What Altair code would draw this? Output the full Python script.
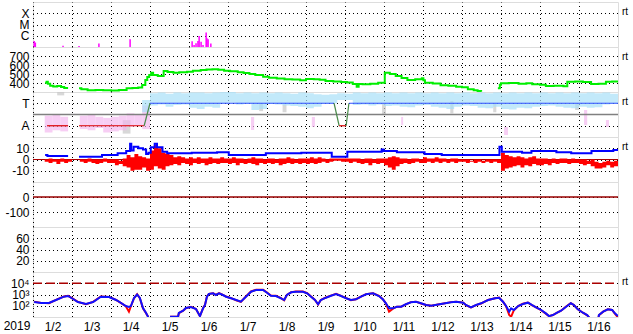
import altair as alt
import pandas as pd

FONT = "Liberation Sans"
W, H = 585, 45

# ---------------- data (time = day of January 2019) ----------------
# X-ray flux bars
xray_t = [2.03, 2.06, 2.77, 3.18, 3.69, 4.49, 6.08, 6.13, 6.18, 6.23, 6.26, 6.31, 6.36, 6.44, 6.46, 6.49, 6.56]
xray_flux = [3.4e-7, 2.5e-7, 1.3e-7, 1.2e-7, 2.1e-7, 4.8e-7, 3.2e-7, 1.5e-7, 2.2e-7, 3.4e-7, 9.5e-7,
             3.0e-7, 1.5e-7, 1.9e-6, 5.9e-7, 4.8e-7, 2.1e-7]

# solar wind speed (three continuous pieces)
spd1_t = [2.31, 2.35, 2.38, 2.44, 2.52, 2.62, 2.72, 2.80, 2.90]
spd1_v = [403, 414, 392, 370, 362, 366, 355, 344, 344]
spd2_t = [3.18, 3.24, 3.40, 3.60, 3.80, 4.00, 4.20, 4.40, 4.55, 4.70, 4.80, 4.88, 4.93, 4.98, 5.03,
          5.08, 5.20, 5.35, 5.45, 5.60, 5.75, 5.95, 6.10, 6.30, 6.45, 6.60, 6.75, 6.90, 7.05, 7.25,
          7.40, 7.55, 7.70, 7.90, 8.05, 8.25, 8.45, 8.65, 8.85, 9.00, 9.20, 9.35, 9.50, 9.70, 9.90,
          10.05, 10.20, 10.30, 10.35, 10.45, 10.65, 10.85, 10.97, 11.02, 11.15, 11.30, 11.45, 11.60,
          11.80, 11.97, 12.01, 12.05, 12.25, 12.45, 12.65, 12.85, 13.00, 13.15, 13.30, 13.40, 13.49]
spd2_v = [341, 330, 319, 322, 319, 317, 322, 341, 345, 350, 378, 433, 467, 490, 514,
          489, 478, 533, 522, 514, 520, 526, 535, 545, 550, 552, 548, 535, 530, 520,
          510, 500, 489, 470, 459, 450, 441, 438, 430, 444, 441, 435, 422, 418, 411,
          405, 389, 359, 389, 385, 392, 403, 403, 514, 500, 478, 455, 433,
          441, 452, 430, 403, 395, 374, 370, 359, 352, 330, 320, 310, 303]
spd3_t = [13.92, 13.97, 14.00, 14.20, 14.45, 14.65, 14.80, 15.00, 15.15, 15.35, 15.60, 15.70,
          15.90, 16.10, 16.31, 16.50, 16.69, 16.85, 17.00]
spd3_v = [341, 380, 396, 400, 392, 398, 385, 380, 367, 370, 365, 414, 418, 410, 389, 392, 414, 418, 414]

# IMF sector clouds (T = +1, A = -1), 0.2-day bins
blue_start = 4.8
blue_hi = [1.3,
           1.9, 1.95, 1.85, 1.95, 1.9, 1.95, 1.95, 1.9, 1.95, 2.0,
           2.0, 1.9, 1.95, 1.9, 1.95, 1.9, 1.95, 1.9, 1.85, 1.95,
           1.9, 1.8, 1.75, 1.8, 1.9, 1.85, 1.95, 1.9, 1.95, 1.9,
           1.95, 1.9, 1.95, 1.9, 1.95, 1.9, 1.95, 1.9, 1.95, 1.9,
           1.95, 1.9, 1.95, 1.9, 1.95, 1.9, 1.95, 1.9, 1.95, 1.9,
           1.95, 1.9, 1.95, 1.9, 1.95, 1.9, 1.95, 1.9, 1.95, 1.85]
blue_lo = [0.2,
           0.8, 0.9, 0.7, 0.85, 0.9, 0.6, 0.5, 0.7, 0.6, 1.0,
           1.05, 0.9, 0.95, 0.4, 0.5, 0.95, 0.9, 0.8, 0.75, 0.7,
           0.55, 0.7, 0.95, 1.0, 1.3, 1.3, 0.85, 0.9, 0.8, 0.9,
           0.75, 0.8, 0.7, 0.65, 0.8, 0.85, 0.7, 0.6, 0.5, 0.7,
           0.8, 0.75, 0.6, 0.55, 0.7, 0.5, 0.45, 0.6, 0.55, 0.7,
           0.75, 0.8, 0.7, 0.6, 0.55, 0.7, 0.6, 0.65, 0.9, 0.95]
pink_t0 = [2.3, 2.5, 2.7, 3.2, 3.4, 3.6, 3.8, 4.0, 4.2, 4.4, 4.6, 4.8, 7.59, 9.15, 11.44, 14.08, 16.13, 16.69]
pink_t1 = [2.5, 2.7, 2.9, 3.4, 3.6, 3.8, 4.0, 4.2, 4.4, 4.6, 4.8, 5.0, 7.67, 9.23, 11.49, 14.18, 16.21, 16.77]
pink_hi = [-0.1, 0.0, -0.2, -0.1, 0.0, -0.2, -0.3, -0.2, -0.1, 0.1, 0.0, 0.8, -0.22, -0.22, -0.22, -1.11, 0.40, -0.49]
pink_lo = [-1.6, -1.4, -1.5, -1.3, -1.4, -1.2, -1.6, -1.5, -1.4, -1.1, -1.0, -1.3, -1.38, -1.11, -0.93, -1.82, -0.93, -1.11]
gray_t0 = [2.62, 4.30, 7.80, 8.40, 10.95, 12.70, 13.80, 15.90]
gray_t1 = [2.80, 4.50, 7.90, 8.50, 11.05, 12.78, 13.88, 16.00]
gray_hi = [2.0, -0.5, 1.0, 0.9, 1.0, 1.2, 1.0, 1.0]
gray_lo = [1.7, -1.7, 0.3, 0.2, 0.0, 0.1, 0.2, 0.4]

# sector polarity line segments
sec_t0 = [2.36, 3.18, 4.85, 5.00, 9.72, 9.85, 10.03, 10.10]
sec_t1 = [2.90, 4.85, 5.00, 9.72, 9.85, 10.03, 10.10, 17.00]
sec_v0 = [-1, -1, -1, 1, 1, -1, -1, 1]
sec_v1 = [-1, -1, 1, 1, -1, -1, 1, 1]

# IMF Bt (step line)
bt1_t = [2.31, 2.37, 2.90]
bt1_v = [4, 3.1, 3.1]
bt2_t = [3.18, 3.77, 4.17, 4.39, 4.49, 4.52, 4.58, 4.70, 4.82, 4.90, 4.96, 5.02, 5.12, 5.18, 5.32, 5.44,
         6.07, 6.72, 7.02, 7.97, 8.88, 9.66, 10.06, 10.94, 10.99, 11.33, 12.04, 12.48, 13.96, 14.02,
         14.54, 14.78, 15.42, 15.80, 16.32, 16.88, 17.0]
bt2_v = [2.5, 4, 5.5, 7.5, 14, 8, 11.4, 10, 9, 5, 6, 11, 14, 11, 7, 5.5,
         6, 6.4, 4, 5.5, 6, 2.5, 7, 9, 7.5, 6.4, 4.9, 4, 11.4, 7,
         6, 7.5, 6.4, 5.5, 7.5, 8.4, 8.4]

# IMF Bz envelope per 0.1-day bin
bz1_start = 2.3
bz1_hi = [0, 1, 0, 0, 1, 0, 0]
bz1_lo = [-2, -3, -2, -4, -2, -3, -2]
bz2_start = 3.2
bz2_hi = [0, 0, 1, 0, 0, 0, 1, 0,
          0, 0, -1, 1, 4, 2, 5, 3, 2, 1,
          8, 13, 10, 6, 5, 4, 2, 3, 2, 1,
          2, 1, 2, 1, 1, 2, 1, 1, 2, 1,
          1, 2, 1, 1, 0, 1, 2, 1, 1, 0,
          1, 1, 0, 1, 1, 2, 1, 0, 1, 1,
          1, 2, 1, 2, 1, 0, 1, 1, 1, 1,
          1, 1, 1, 1, 0, 1, 1, 0, 1, 1,
          1, 2, 3, 2, 1, 1, 0, 1, 1, 0,
          2, 1, 1, 2, 1, 1, 0, 1, 1, 0,
          0, 0, -1, 0, 0, -1, 0, 0, 0, 0,
          6, 4, 3, 2, 3, 2, 1, 2, 3, 1,
          1, 1, 0, 1, 0, 1, 1, 0, 1, 0,
          0, 0, -1, 0, -2, -3, -2, -1, -2, -1]
bz2_lo = [-2, -3, -2, -3, -4, -3, -2, -3,
          -3, -5, -4, -6, -7, -10, -9, -9, -7, -10,
          -9, -6, -8, -9, -6, -5, -4, -5, -3, -4,
          -5, -3, -4, -3, -5, -4, -3, -4, -3, -3,
          -4, -3, -5, -3, -4, -3, -4, -5, -3, -4,
          -3, -4, -3, -5, -4, -3, -4, -3, -4, -3,
          -4, -3, -4, -3, -2, -3, -2, -1, -1, -2,
          -2, -3, -2, -3, -4, -3, -5, -3, -4, -3,
          -5, -7, -9, -6, -4, -3, -4, -3, -2, -3,
          -3, -2, -3, -2, -3, -2, -3, -2, -3, -2,
          -2, -3, -2, -3, -2, -3, -2, -3, -2, -3,
          -10, -8, -7, -6, -5, -7, -5, -6, -4, -5,
          -5, -4, -5, -3, -4, -3, -3, -4, -3, -3,
          -4, -5, -4, -6, -8, -8, -7, -5, -7, -6]

# electron flux (two channels)
e_t = [2.03, 2.21, 2.41, 2.59, 2.79, 2.90, 3.03, 3.15, 3.36, 3.54, 3.74, 3.95, 4.13, 4.26, 4.38, 4.46,
       4.51, 4.59, 4.67, 4.74, 4.82, 4.90, 4.95, 4.98, 5.53, 5.54, 5.72, 5.74, 5.85, 5.92, 6.05, 6.18,
       6.28, 6.36, 6.41, 6.46, 6.51, 6.62, 6.69, 6.77, 6.87, 6.95, 7.08, 7.21, 7.33, 7.46, 7.59, 7.72,
       7.90, 8.00, 8.10, 8.23, 8.36, 8.44, 8.51, 8.62, 8.74, 8.92, 9.03, 9.13, 9.23, 9.31, 9.38, 9.51,
       9.64, 9.77, 9.90, 10.03, 10.15, 10.28, 10.41, 10.54, 10.72, 10.87, 10.97, 11.05, 11.13, 11.23,
       11.33, 11.44, 11.56, 11.69, 11.82, 11.95, 12.08, 12.21, 12.46, 12.72, 12.85, 13.03, 13.10, 13.23,
       13.36, 13.49, 13.67, 13.85, 13.95, 14.05, 14.13, 14.21, 14.26, 14.33, 14.44, 14.56, 14.69, 14.79,
       14.90, 15.03, 15.15, 15.23, 15.33, 15.44, 15.54, 15.67, 15.79, 15.87, 15.97, 16.10, 16.21, 16.26,
       16.27, 16.48, 16.51, 16.62, 16.74, 16.85, 16.92, 16.97, 17.0]
e_blue = [215, 176, 176, 324, 637, 736, 398, 215, 143, 215, 637, 600, 324, 176, 95, 77,
          95, 489, 1000, 489, 63, 23, 10.6, 3, 3, 10.6, 10.6, 23, 36, 63, 77, 51,
          12, 59, 117, 637, 1108, 1280, 903, 1280, 903, 637, 460, 324, 229, 637, 1774, 2512,
          2512, 1450, 782, 736, 460, 324, 903, 1570, 1774, 1774, 1280, 637, 324, 135, 324, 520,
          782, 1108, 736, 460, 324, 374, 637, 1042, 1280, 736, 374, 165, 59, 59,
          82, 82, 135, 203, 229, 165, 117, 101, 143, 203, 229, 187, 117, 73,
          117, 165, 324, 460, 520, 229, 95, 30, 59, 42, 95, 143, 187, 117,
          73, 42, 21, 12, 15, 24, 36, 82, 165, 117, 48, 24, 15, 9,
          3, 3, 15, 30, 48, 42, 21, 15, 12]
e_red = [230, 180, 170, 330, 660, 760, 410, 220, 140, 220, 660, 610, 330, 170, 90, 30,
         90, 470, 1050, 470, 60, 22, 10.6, 3, 3, 10.6, 10.6, 22, 36, 60, 80, 52,
         12, 60, 120, 660, 1150, 1300, 930, 1300, 930, 660, 470, 310, 220, 660, 1850, 2600,
         2600, 1500, 800, 760, 470, 310, 930, 1600, 1850, 1850, 1300, 660, 330, 130, 330, 540,
         800, 1150, 760, 470, 310, 380, 660, 1080, 1300, 760, 380, 160, 30, 55,
         82, 82, 130, 210, 230, 160, 115, 100, 143, 210, 230, 190, 115, 70,
         115, 160, 330, 470, 540, 230, 90, 15, 10.6, 40, 95, 150, 190, 115,
         70, 40, 20, 12, 15, 24, 36, 85, 170, 115, 48, 24, 14, 9,
         3, 3, 14, 30, 48, 42, 20, 12, 10]

# axis tick values / labels
day_ticks = list(range(2, 17))
xray_ticks = [1e-6, 1e-5, 1e-4]
speed_ticks = [400, 500, 600, 700]
sector_ticks = [-1, 1]
bz_ticks = [-10, 0, 10]
dst_ticks = [-100, 0]
kp_ticks = [20, 40, 60]
e_ticks = [100, 1000, 10000]

# ---------------- helpers ----------------
GRID = dict(grid=True, gridDash=[1, 3], gridDashOffset=0.5, gridColor="black", gridWidth=1, gridOpacity=1)


def xenc(labels=False):
    return alt.X("t:Q", scale=alt.Scale(domain=[2, 17], nice=False, zero=False),
                 axis=alt.Axis(values=day_ticks, ticks=False, domain=False, labels=labels, title=None,
                               labelOffset=19.5, labelExpr="'1/' + datum.value", labelPadding=4,
                               labelFontSize=12, labelFont=FONT, labelColor="black", minExtent=0,
                               labelFlush=False, labelOverlap=False, **GRID))


def yenc(scale, values, expr):
    return alt.Y("v:Q", scale=scale,
                 axis=alt.Axis(values=values, labelExpr=expr, ticks=False, domain=False, title=None,
                               labelPadding=4, labelFontSize=12, labelFont=FONT, labelColor="black",
                               minExtent=32, maxExtent=32, labelOverlap=False, labelFlush=False, **GRID))


def rt():
    return alt.Chart(pd.DataFrame({"s": ["rt"]})).mark_text(
        align="left", baseline="middle", fontSize=10, font=FONT, color="black"
    ).encode(x=alt.value(589), y=alt.value(10), text="s:N")


def hline(val, Y, color, width=1.5, dash=None, labels=False):
    df = pd.DataFrame({"t": [2], "t2": [17], "v": [val]})
    kw = dict(color=color, strokeWidth=width)
    if dash:
        kw["strokeDash"] = dash
    return alt.Chart(df).mark_rule(**kw).encode(x=xenc(labels), x2="t2:Q", y=Y)


def band(start, width, hi, lo, seg):
    # step band: one row per bin start, plus the closing edge of the last bin
    t0 = [round(start + width * i, 3) for i in range(len(hi))] + [round(start + width * len(hi), 3)]
    return pd.DataFrame({"t": t0, "v": list(hi) + [hi[-1]], "v2": list(lo) + [lo[-1]], "seg": seg})


# ---------------- panel 1: X-ray ----------------
Y1 = yenc(alt.Scale(type="log", domain=[1e-7, 1e-3], nice=False), xray_ticks,
          "datum.value > 5e-5 ? 'X' : (datum.value > 5e-6 ? 'M' : 'C')")
df_x = pd.DataFrame({"t": xray_t, "v": xray_flux, "v2": [1e-7] * len(xray_t)})
p1 = alt.layer(
    alt.Chart(df_x).mark_rule(color="#ff00ff", strokeWidth=1.5).encode(x=xenc(), y=Y1, y2="v2:Q"),
    rt(),
).properties(width=W, height=H)

# ---------------- panel 2: speed ----------------
Y2 = yenc(alt.Scale(domain=[300, 800], nice=False, zero=False), speed_ticks, "'' + datum.value")
df_s = pd.concat([
    pd.DataFrame({"t": spd1_t, "v": spd1_v, "seg": 1}),
    pd.DataFrame({"t": spd2_t, "v": spd2_v, "seg": 2}),
    pd.DataFrame({"t": spd3_t, "v": spd3_v, "seg": 3}),
])
p2 = alt.layer(
    alt.Chart(df_s).mark_line(color="#00ee00", strokeWidth=2, interpolate="step-after", clip=True)
    .encode(x=xenc(), y=Y2, detail="seg:N"),
    rt(),
).properties(width=W, height=H)

# ---------------- panel 3: sector ----------------
Y3 = yenc(alt.Scale(domain=[-2, 2], nice=False, zero=False), sector_ticks,
          "datum.value > 0 ? 'T' : 'A'")


def cloud(df, color, op):
    return alt.Chart(df).mark_rect(color=color, opacity=op).encode(x=xenc(), x2="t2:Q", y=Y3, y2="v2:Q")


kinds = ["A" if (a == -1 and b == -1) else ("T" if (a == 1 and b == 1) else "X")
         for a, b in zip(sec_v0, sec_v1)]
df_sec = pd.DataFrame({"t": sec_t0, "t2": sec_t1, "v": sec_v0, "v2": sec_v1, "k": kinds})
p3 = alt.layer(
    cloud(pd.DataFrame({"t": gray_t0, "t2": gray_t1, "v": gray_hi, "v2": gray_lo}), "#c8c8c8", 0.7),
    cloud(pd.DataFrame({"t": pink_t0, "t2": pink_t1, "v": pink_hi, "v2": pink_lo}), "#f3b4ee", 0.65),
    alt.Chart(band(blue_start, 0.2, blue_hi, blue_lo, 1)).mark_area(
        color="#a8e0f8", opacity=0.7, interpolate="step-after").encode(x=xenc(), y=Y3, y2="v2:Q"),
    hline(0, Y3, "#808080", 1.5),
    alt.Chart(df_sec).mark_rule(strokeWidth=1.2).encode(
        x=xenc(), x2="t2:Q", y=Y3, y2="v2:Q",
        color=alt.Color("k:N", scale=alt.Scale(domain=["A", "T", "X"], range=["#dd0000", "#3050ff", "#4a8a4a"]),
                        legend=None)),
    rt(),
).properties(width=W, height=H)

# ---------------- panel 4: Bt / Bz ----------------
Y4 = yenc(alt.Scale(domain=[-20, 20], nice=False, zero=False), bz_ticks, "'' + datum.value")
df_bt = pd.concat([
    pd.DataFrame({"t": bt1_t, "v": bt1_v, "seg": 1}),
    pd.DataFrame({"t": bt2_t, "v": bt2_v, "seg": 2}),
])
df_bz = pd.concat([band(bz1_start, 0.1, bz1_hi, bz1_lo, 1), band(bz2_start, 0.1, bz2_hi, bz2_lo, 2)])
p4 = alt.layer(
    hline(0, Y4, "#aa0000", 1.2),
    alt.Chart(df_bz).mark_area(color="#ff0000", interpolate="step-after", clip=True)
    .encode(x=xenc(), y=Y4, y2="v2:Q", detail="seg:N"),
    alt.Chart(df_bt).mark_line(color="#0000ff", strokeWidth=2, interpolate="step-after", clip=True)
    .encode(x=xenc(), y=Y4, detail="seg:N"),
    rt(),
).properties(width=W, height=H)

# ---------------- panel 5: Dst ----------------
Y5 = yenc(alt.Scale(domain=[-200, 100], nice=False, zero=False), dst_ticks, "'' + datum.value")
p5 = alt.layer(hline(0, Y5, "#990000", 1.5)).properties(width=W, height=H)

# ---------------- panel 6: Kp-like ----------------
Y6 = yenc(alt.Scale(domain=[0, 80], nice=False, zero=False), kp_ticks, "'' + datum.value")
df_k = pd.DataFrame({"t": [2], "t2": [17], "v": [-10]})
p6 = alt.layer(
    alt.Chart(df_k).mark_rule(opacity=0).encode(x=xenc(), x2="t2:Q", y=Y6)
).properties(width=W, height=H)

# ---------------- panel 7: electrons ----------------
Y7 = yenc(alt.Scale(type="log", domain=[10, 1e5], nice=False), e_ticks,
          "datum.value > 5000 ? '10\u2074' : (datum.value > 500 ? '10\u00b3' : '10\u00b2')")
df_er = pd.DataFrame({"t": e_t, "v": e_red})
df_eb = pd.DataFrame({"t": e_t, "v": e_blue})
year = alt.Chart(pd.DataFrame({"s": ["2019"]})).mark_text(
    align="center", baseline="top", fontSize=12, font=FONT, color="black"
).encode(x=alt.value(-16), y=alt.value(H + 4), text="s:N")
p7 = alt.layer(
    hline(1e4, Y7, "#aa0000", 1.5, [9, 4], labels=True),
    alt.Chart(df_er).mark_line(color="#ff0000", strokeWidth=2, clip=True).encode(x=xenc(True), y=Y7),
    alt.Chart(df_eb).mark_line(color="#1010ff", strokeWidth=2, clip=True).encode(x=xenc(True), y=Y7),
    year,
    rt(),
).properties(width=W, height=H)

chart = alt.vconcat(p1, p2, p3, p4, p5, p6, p7, spacing=0, bounds="flush").properties(
    padding={"left": 0, "top": 1, "right": 0, "bottom": 0},
    background="white",
).configure_view(stroke="black", strokeWidth=2).configure(font=FONT)

chart.save("out.html", embed_options={"renderer": "svg", "actions": False})
